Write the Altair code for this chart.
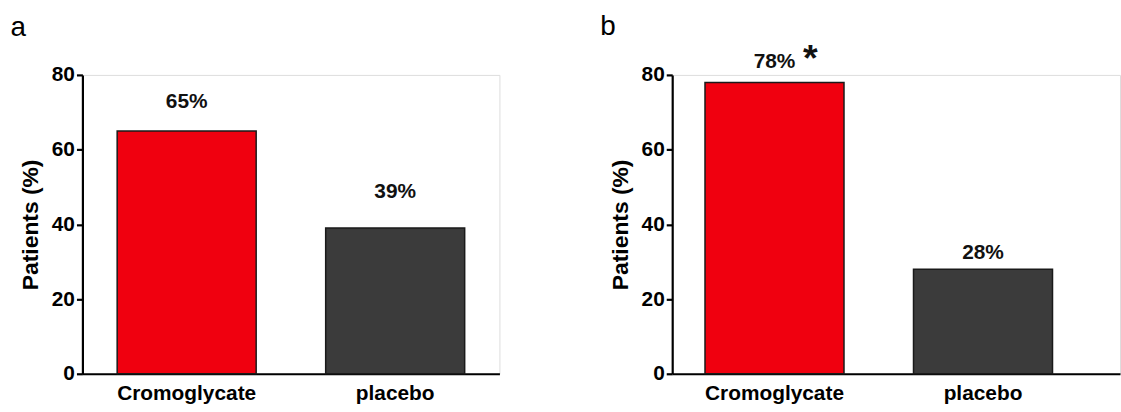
import altair as alt
import pandas as pd

# ---- data ----
categories = ["Cromoglycate", "placebo"]
values_a = [65, 39]
values_b = [78, 28]
bar_colors = ["#F0000F", "#3B3B3B"]
y_ticks = [0, 20, 40, 60, 80]
panel_letters = ["a", "b"]
star_text = "*"

# ---- layout constants (not data) ----
label_gap_a = [6.2, 8.0]   # distance of the % label above the bar top, in axis units
label_gap_b = [3.9, 2.7]
FONT = "Liberation Sans"


def make_df(values, gaps):
    return pd.DataFrame({
        "cat": categories,
        "val": values,
        "lab": [f"{v}%" for v in values],
        "ly": [v + g for v, g in zip(values, gaps)],
        "col": bar_colors,
    })


def panel(values, gaps, letter, width, pad_outer, align, title_offset, star=False):
    df = make_df(values, gaps)
    xscale = alt.Scale(domain=categories, paddingInner=1/3, paddingOuter=pad_outer, align=align)
    yscale = alt.Scale(domain=[0, 80], nice=False, zero=True)
    x = alt.X("cat:N", scale=xscale, sort=categories,
              axis=alt.Axis(title=None, labelAngle=0, ticks=False, domainColor="black",
                            domainWidth=2.2, labelFont=FONT, labelFontSize=21,
                            labelFontWeight="bold", labelColor="black", labelPadding=9))
    y = alt.Y("val:Q", scale=yscale,
              axis=alt.Axis(title="Patients (%)", values=y_ticks, grid=False,
                            domainColor="black", domainWidth=2.2, tickColor="black",
                            tickWidth=2.2, tickSize=6, labelFont=FONT, labelFontSize=21,
                            labelFontWeight="bold", labelColor="black", labelPadding=2,
                            titleFont=FONT, titleFontSize=23, titleFontWeight="bold",
                            titleColor="black", titlePadding=9))
    bars = alt.Chart(df).mark_bar(stroke="#1a1a1a", strokeWidth=1.5).encode(
        x=x, y=y, color=alt.Color("col:N", scale=None))
    text = alt.Chart(df).mark_text(font=FONT, fontSize=21, fontWeight="bold",
                                   color="#111", baseline="alphabetic").encode(
        x=alt.X("cat:N", scale=xscale, sort=categories),
        y=alt.Y("ly:Q", scale=yscale),
        text="lab:N")
    layers = [bars, text]
    if star:
        sdf = pd.DataFrame({"cat": [categories[0]], "sy": [values[0] + 7.6], "t": [star_text]})
        st = alt.Chart(sdf).mark_text(font=FONT, fontSize=38, fontWeight="bold",
                                      color="#111", baseline="middle", dx=36, dy=6).encode(
            x=alt.X("cat:N", scale=xscale, sort=categories),
            y=alt.Y("sy:Q", scale=yscale),
            text="t:N")
        layers.append(st)
    return alt.layer(*layers).properties(
        width=width, height=301,
        title=alt.TitleParams(letter, anchor="start", frame="bounds", font=FONT,
                              fontSize=28, fontWeight="normal", color="black",
                              offset=title_offset, dx=-9))


pa = panel(values_a, label_gap_a, panel_letters[0], 420, 1/6, 0.5, 22)
pb = panel(values_b, label_gap_b, panel_letters[1], 451, 0.2405, 0.327, 0, star=True)

chart = alt.hconcat(pa, pb, spacing=100).properties(
    padding={"left": 10, "top": 11, "right": 0, "bottom": 0}
).configure_view(strokeWidth=0, stroke="transparent").configure(background="white")

chart.save("out.html", embed_options={"renderer": "svg", "actions": False})
